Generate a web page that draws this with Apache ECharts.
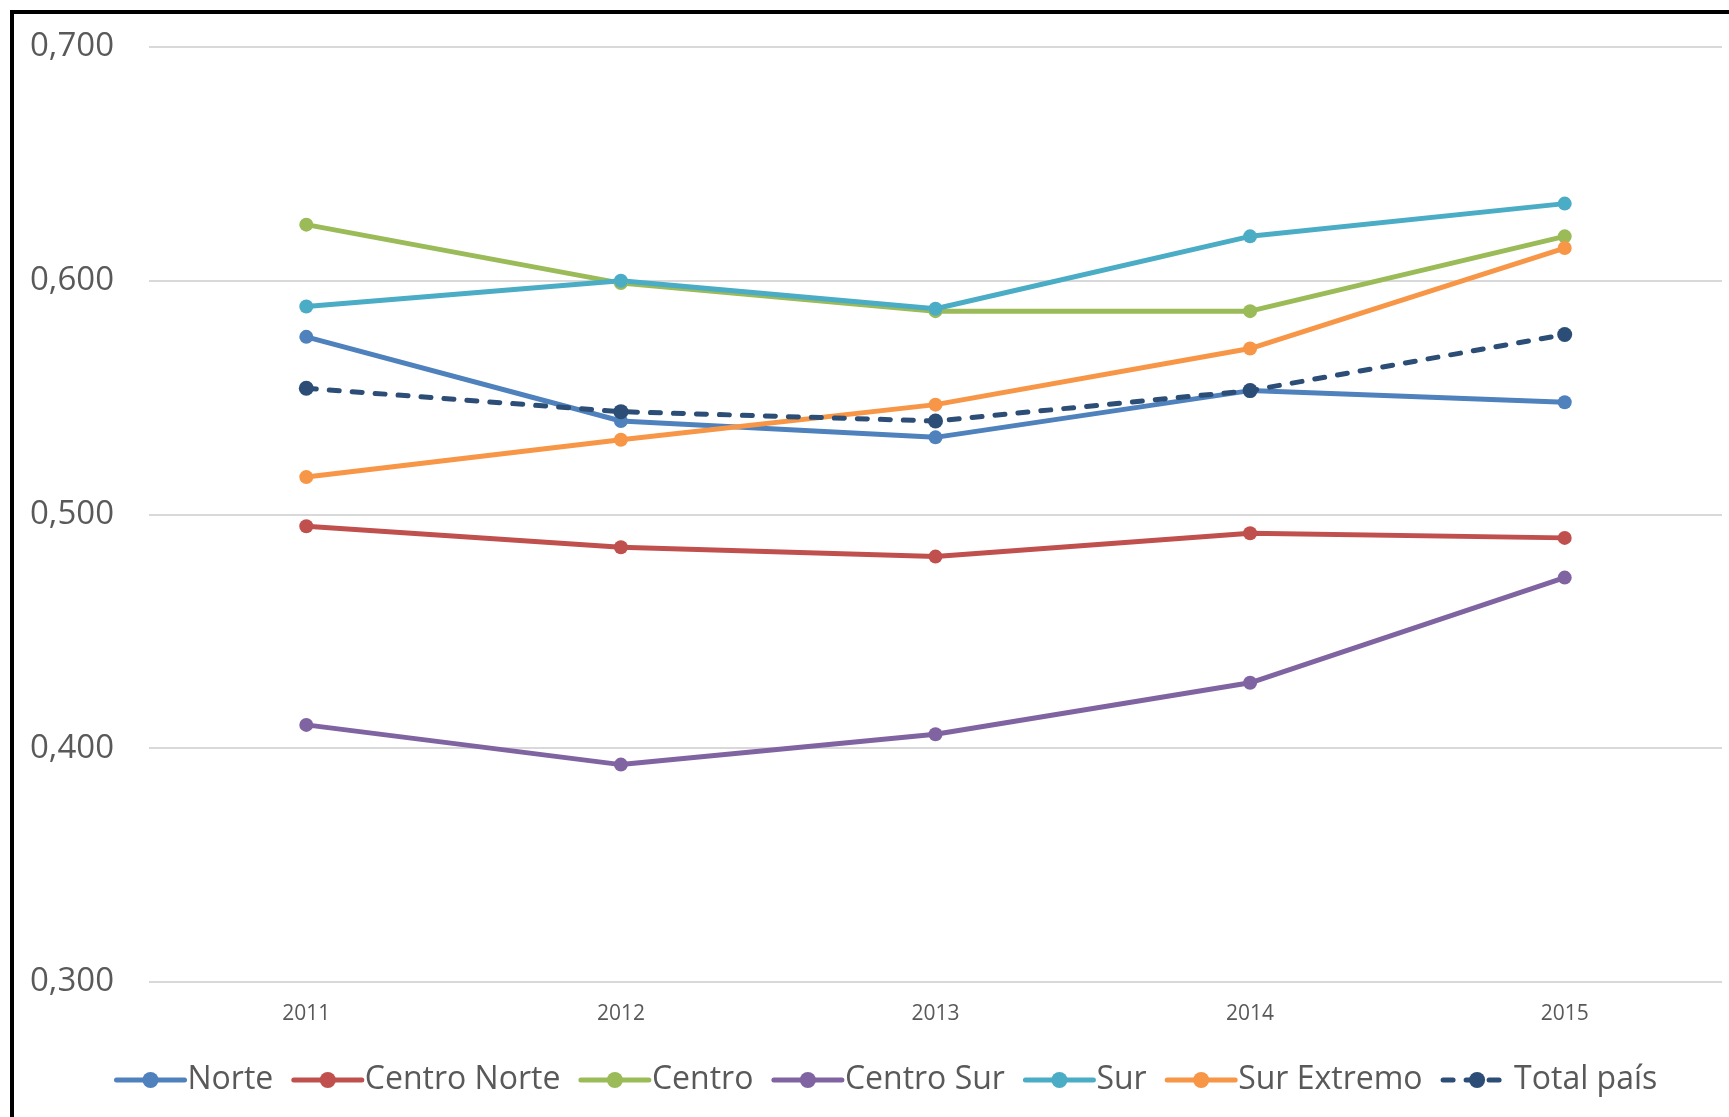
<!DOCTYPE html>
<html>
<head>
<meta charset="utf-8">
<title>Índice regional 2011-2015</title>
<script src="https://cdn.jsdelivr.net/npm/echarts@6/dist/echarts.min.js"></script>
<style>
  html, body { margin: 0; padding: 0; background: #fff; }
  #chart { width: 1729px; height: 1117px; }
</style>
</head>
<body>
<div id="chart"></div>
<script>
// Years on the category axis
const years = ['2011', '2012', '2013', '2014', '2015'];

// Regional values per year
const norte       = [0.576, 0.540, 0.533, 0.553, 0.548];
const centroNorte = [0.495, 0.486, 0.482, 0.492, 0.490];
const centro      = [0.624, 0.599, 0.587, 0.587, 0.619];
const centroSur   = [0.410, 0.393, 0.406, 0.428, 0.473];
const sur         = [0.589, 0.600, 0.588, 0.619, 0.633];
const surExtremo  = [0.516, 0.532, 0.547, 0.571, 0.614];
const totalPais   = [0.554, 0.544, 0.540, 0.553, 0.577];

const seriesDefs = [
  { name: 'Norte',        data: norte,       color: '#4F81BD' },
  { name: 'Centro Norte', data: centroNorte, color: '#C0504D' },
  { name: 'Centro',       data: centro,      color: '#9BBB59' },
  { name: 'Centro Sur',   data: centroSur,   color: '#8064A2' },
  { name: 'Sur',          data: sur,         color: '#4BACC6' },
  { name: 'Sur Extremo',  data: surExtremo,  color: '#F79646' },
  { name: 'Total país',   data: totalPais,   color: '#2C4D75', dashed: true }
];

const FONT = '"Open Sans", "Liberation Sans", sans-serif';

const chart = echarts.init(document.getElementById('chart'), null, { renderer: 'canvas' });

chart.setOption({
  animation: false,
  backgroundColor: '#ffffff',
  textStyle: { fontFamily: FONT },
  grid: { left: 149, right: 7, top: 47, bottom: 135, containLabel: false },
  xAxis: {
    type: 'category',
    data: years,
    boundaryGap: true,
    axisLine: { show: false },
    axisTick: { show: false },
    axisLabel: { color: '#595959', fontSize: 21, fontFamily: FONT, margin: 22 }
  },
  yAxis: {
    type: 'value',
    min: 0.3,
    max: 0.7,
    interval: 0.1,
    axisLine: { show: false },
    axisTick: { show: false },
    splitLine: { lineStyle: { color: '#D9D9D9', width: 2 } },
    axisLabel: {
      color: '#595959',
      fontSize: 33,
      fontFamily: FONT,
      margin: 35,
      formatter: v => v.toFixed(3).replace('.', ',')
    }
  },
  legend: {
    left: 114,
    top: 1064,
    padding: 0,
    itemWidth: 68,
    itemHeight: 20,
    itemGap: 18,
    lineStyle: { width: 5 },
    textStyle: { color: '#595959', fontSize: 32, fontFamily: FONT, padding: [0, 0, 0, -2] },
    data: seriesDefs.map(s => s.name)
  },
  series: seriesDefs.map(s => ({
    name: s.name,
    type: 'line',
    data: s.data,
    symbol: 'circle',
    symbolSize: s.dashed ? 15 : 14,
    color: s.color,
    itemStyle: { color: s.color },
    lineStyle: s.dashed
      ? { color: s.color, width: 5, type: [10, 13], cap: 'round' }
      : { color: s.color, width: 5, cap: 'round' },
    z: s.dashed ? 3 : 2
  })),
  graphic: [{
    type: 'rect',
    silent: true,
    z: 100,
    shape: { x: 12, y: 12, width: 1760, height: 1160 },
    style: { fill: 'none', stroke: '#000000', lineWidth: 4 }
  }]
});
</script>
</body>
</html>
